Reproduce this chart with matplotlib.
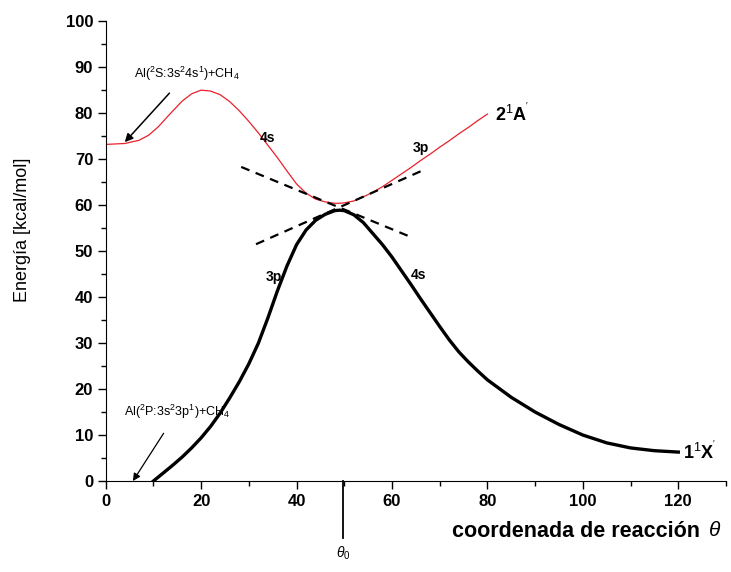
import matplotlib.pyplot as plt
from matplotlib.ticker import MultipleLocator

# Data
x_upper = [0, 4, 7, 9, 11, 13, 16, 18, 20, 22, 24, 26, 28, 30, 32, 34, 36, 38, 40,
           42, 44, 46, 48, 49, 50, 52, 54, 56, 58, 60, 62, 64, 66, 68, 70, 72, 74,
           76, 78, 80]
e_upper = [73.2, 73.4, 74.1, 75.2, 77.0, 79.3, 82.6, 84.2, 85.0, 84.8, 84.0, 82.5,
           80.5, 78.2, 75.7, 73.0, 70.3, 67.4, 64.6, 62.6, 61.3, 60.7, 60.4, 60.4,
           60.5, 60.9, 61.8, 62.8, 64.0, 65.4, 66.8, 68.2, 69.7, 71.1, 72.6, 74.0,
           75.5, 76.9, 78.4, 79.8]

x_ground = [10, 12, 14, 16, 18, 20, 22, 24, 26, 28, 30, 32, 34, 36, 38, 40, 42, 44,
            46, 48, 49, 50, 52, 54, 56, 58, 60, 62, 64, 66, 68, 70, 72, 74, 76, 78,
            80, 85, 90, 95, 100, 105, 110, 115, 120]
e_ground = [0, 1.7, 3.4, 5.2, 7.2, 9.4, 11.9, 14.8, 18.1, 21.6, 25.5, 30.0, 35.5,
            41.4, 46.8, 51.4, 54.6, 56.7, 58.0, 58.8, 58.9, 58.8, 57.9, 56.2, 53.8,
            51.4, 48.7, 45.7, 42.7, 39.6, 36.6, 33.6, 30.7, 28.1, 25.9, 23.9, 22.0,
            18.2, 15.0, 12.3, 10.0, 8.3, 7.2, 6.6, 6.3]

# diabatic guide lines (dashed)
diab_4s_x = [28.4, 63.4]
diab_4s_e = [68.3, 53.3]
diab_3p_x = [31.5, 66.1]
diab_3p_e = [51.5, 67.4]

theta0 = 49.8

plt.rcParams['font.family'] = ['Liberation Sans', 'DejaVu Sans']
plt.rcParams['mathtext.fontset'] = 'custom'
plt.rcParams['mathtext.rm'] = 'Liberation Sans'
plt.rcParams['mathtext.it'] = 'Liberation Sans:italic'
plt.rcParams['mathtext.bf'] = 'Liberation Sans:bold'

fig = plt.figure(figsize=(7.31, 5.72), dpi=100)
ax = fig.add_axes([0.1446, 0.159, 0.8486, 0.804])

ax.plot(x_upper, e_upper, color='#e8212b', lw=0.9)
ax.plot(x_ground, e_ground, color='black', lw=2.4)
ax.plot(diab_4s_x, diab_4s_e, color='black', lw=1.6, ls=(0, (4, 3)))
ax.plot(diab_3p_x, diab_3p_e, color='black', lw=1.6, ls=(0, (4, 3)))

ax.set_xlim(0, 130)
ax.set_ylim(0, 100)
ax.spines['top'].set_visible(False)
ax.spines['right'].set_visible(False)
ax.xaxis.set_major_locator(MultipleLocator(20))
ax.xaxis.set_minor_locator(MultipleLocator(10))
ax.yaxis.set_major_locator(MultipleLocator(10))
ax.yaxis.set_minor_locator(MultipleLocator(5))
ax.tick_params(which='major', length=6, width=1, labelsize=12, pad=3)
ax.tick_params(which='minor', length=3.5, width=1)
for lab in ax.get_xticklabels() + ax.get_yticklabels():
    lab.set_fontweight('bold')

ax.set_ylabel('Energía [kcal/mol]', fontsize=13)
ax.yaxis.set_label_coords(-0.12, 0.546)

# x label: text + italic theta
fig.text(0.958, 0.07, 'coordenada de reacción', fontsize=15.5, fontweight='bold',
         ha='right', va='center')
fig.text(0.977, 0.072, r'$\theta$', fontsize=15, family='DejaVu Serif',
         ha='center', va='center', style='italic')

# theta0 marker below the axis
ax.plot([theta0, theta0], [0, -12.3], color='black', lw=1.3, clip_on=False)
ax.text(theta0, -15.8, r'$\theta_0$', fontsize=10, ha='center', va='center')

# state labels
ax.text(81.5, 79.8, r"2$^1$A$^{'}$", fontsize=13, fontweight='bold',
        ha='left', va='center')
ax.text(121, 6.3, r"1$^1$X$^{'}$", fontsize=13, fontweight='bold',
        ha='left', va='center')
ax.text(34, 74.6, '4s', fontsize=10, fontweight='bold', ha='center', va='center')
ax.text(66, 72.5, '3p', fontsize=10, fontweight='bold', ha='center', va='center')
ax.text(35.3, 44.3, '3p', fontsize=10, fontweight='bold', ha='center', va='center')
ax.text(65.5, 44.8, '4s', fontsize=10, fontweight='bold', ha='center', va='center')

# asymptote annotations
ax.annotate(r'Al($^2$S:3s$^2$4s$^1$)+CH$_4$', xy=(4, 73.7), xytext=(17, 88.5),
            fontsize=9, ha='center', va='center',
            arrowprops=dict(arrowstyle='-|>', color='black', lw=1.1,
                            mutation_scale=12, shrinkA=7, shrinkB=0))
ax.annotate(r'Al($^2$P:3s$^2$3p$^1$)+CH$_4$', xy=(5.7, 0), xytext=(15, 15),
            fontsize=9, ha='center', va='center',
            arrowprops=dict(arrowstyle='-|>', color='black', lw=0.9,
                            mutation_scale=11, shrinkA=8, shrinkB=0))

fig.savefig('out.png', dpi=100)
